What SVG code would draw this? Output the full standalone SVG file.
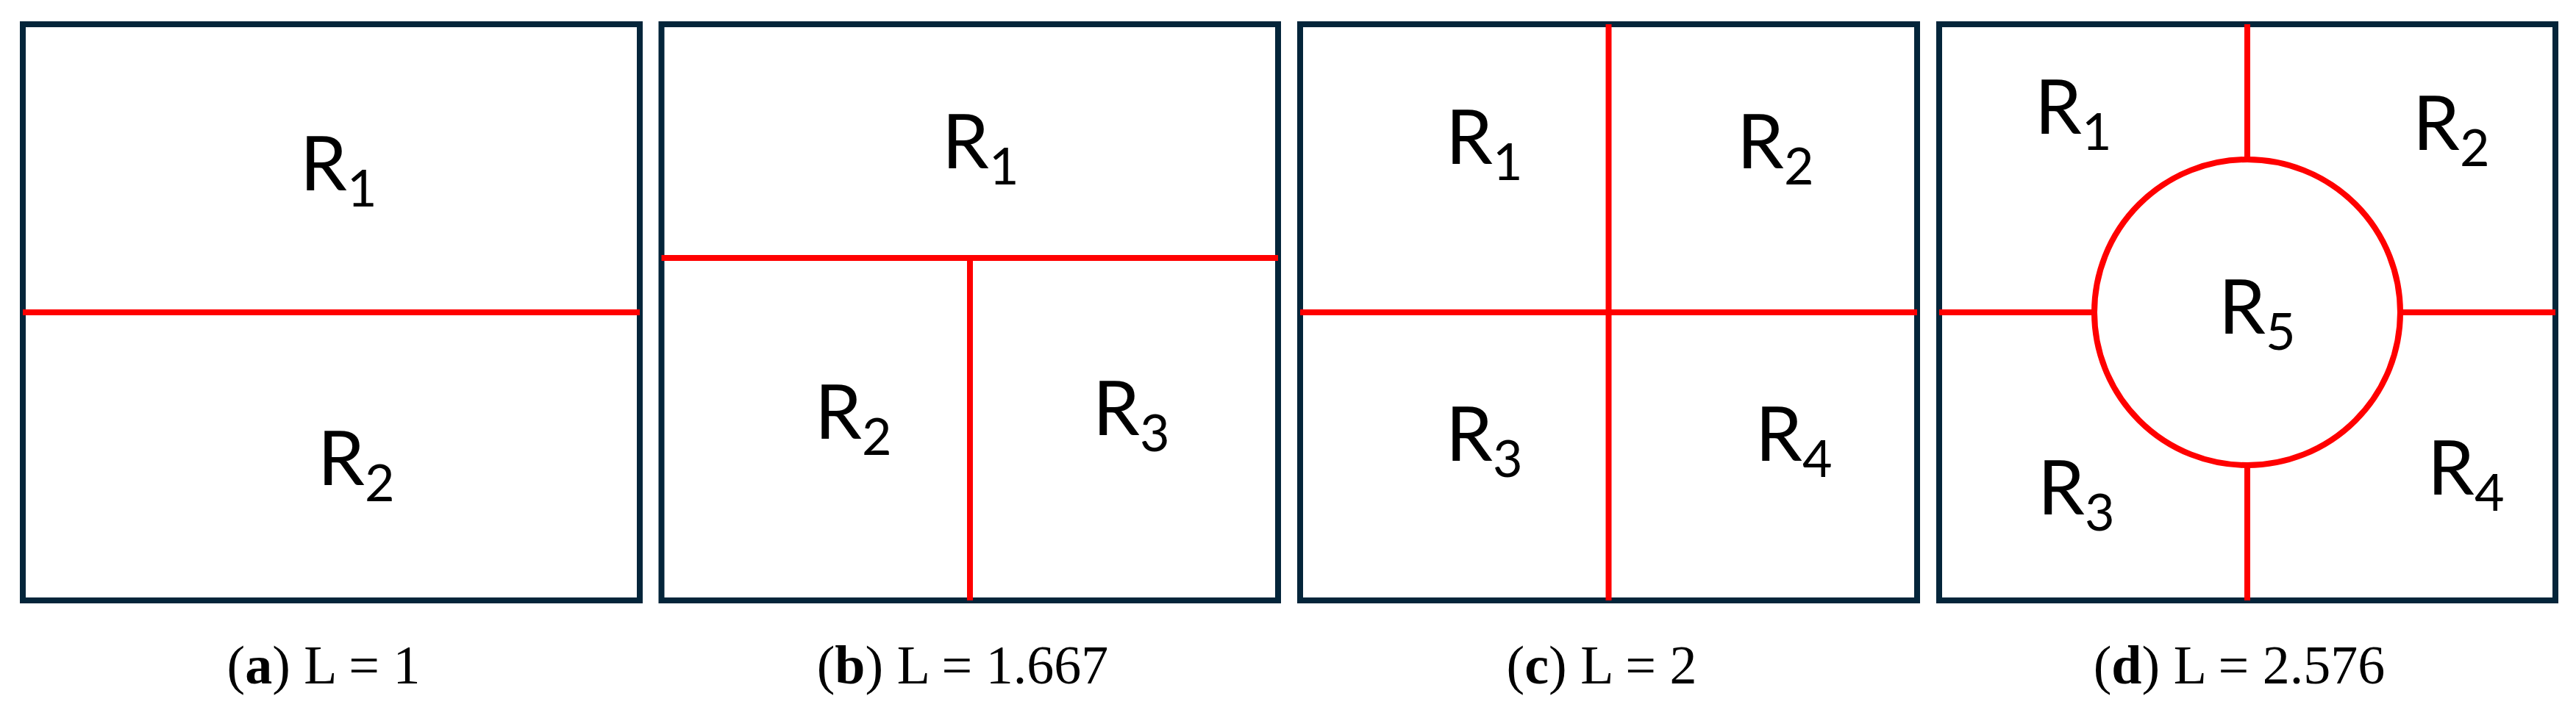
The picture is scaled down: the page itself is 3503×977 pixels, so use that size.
<svg xmlns="http://www.w3.org/2000/svg" width="3503" height="977" viewBox="0 0 3503 977">
<style>
.frame{fill:none;stroke:#04253A;stroke-width:8}
.cut{fill:none;stroke:#FF0000;stroke-width:8}
.lab{font-family:Lato,"Liberation Sans",sans-serif;font-size:102px;fill:#000}
.sub{font-size:70px}
.cap{font-family:"Liberation Serif",serif;font-size:74px;fill:#000;text-anchor:middle}
.b{font-weight:bold}
</style>
<rect width="3503" height="977" fill="#fff"/>
<g id="panel-a">
<rect class="frame" x="31" y="33" width="839" height="784"/>
<line class="cut" x1="31" y1="425" x2="870" y2="425"/>
<text class="lab" x="408" y="259">R<tspan class="sub" dy="22">1</tspan></text>
<text class="lab" x="432" y="660">R<tspan class="sub" dy="22">2</tspan></text>
<text class="cap" x="440" y="930">(<tspan class="b">a</tspan>) L = 1</text>
</g>
<g id="panel-b">
<rect class="frame" x="899.5" y="33" width="838.5" height="784"/>
<line class="cut" x1="899.5" y1="351" x2="1738" y2="351"/>
<line class="cut" x1="1319" y1="351" x2="1319" y2="817"/>
<text class="lab" x="1281" y="229">R<tspan class="sub" dy="22">1</tspan></text>
<text class="lab" x="1108" y="597">R<tspan class="sub" dy="22">2</tspan></text>
<text class="lab" x="1486" y="592">R<tspan class="sub" dy="22">3</tspan></text>
<text class="cap" x="1309" y="930">(<tspan class="b">b</tspan>) L = 1.667</text>
</g>
<g id="panel-c">
<rect class="frame" x="1768" y="33" width="839" height="784"/>
<line class="cut" x1="1768" y1="425" x2="2607" y2="425"/>
<line class="cut" x1="2187.5" y1="33" x2="2187.5" y2="817"/>
<text class="lab" x="1966" y="223">R<tspan class="sub" dy="22">1</tspan></text>
<text class="lab" x="2362" y="229">R<tspan class="sub" dy="22">2</tspan></text>
<text class="lab" x="1966" y="627">R<tspan class="sub" dy="22">3</tspan></text>
<text class="lab" x="2387" y="627">R<tspan class="sub" dy="22">4</tspan></text>
<text class="cap" x="2178" y="930">(<tspan class="b">c</tspan>) L = 2</text>
</g>
<g id="panel-d">
<rect class="frame" x="2637" y="33" width="838" height="784"/>
<g id="connectors">
<circle class="cut" cx="3056" cy="425" r="208"/>
<line class="cut" x1="2637" y1="425" x2="2848" y2="425"/>
<line class="cut" x1="3264" y1="425" x2="3475" y2="425"/>
<line class="cut" x1="3056" y1="33" x2="3056" y2="217"/>
<line class="cut" x1="3056" y1="633" x2="3056" y2="817"/>
</g>
<text class="lab" x="2767" y="182">R<tspan class="sub" dy="22">1</tspan></text>
<text class="lab" x="3281" y="204">R<tspan class="sub" dy="22">2</tspan></text>
<text class="lab" x="3017" y="454">R<tspan class="sub" dy="22">5</tspan></text>
<text class="lab" x="2771" y="700">R<tspan class="sub" dy="22">3</tspan></text>
<text class="lab" x="3301" y="673">R<tspan class="sub" dy="22">4</tspan></text>
<text class="cap" x="3045" y="930">(<tspan class="b">d</tspan>) L = 2.576</text>
</g>
</svg>
